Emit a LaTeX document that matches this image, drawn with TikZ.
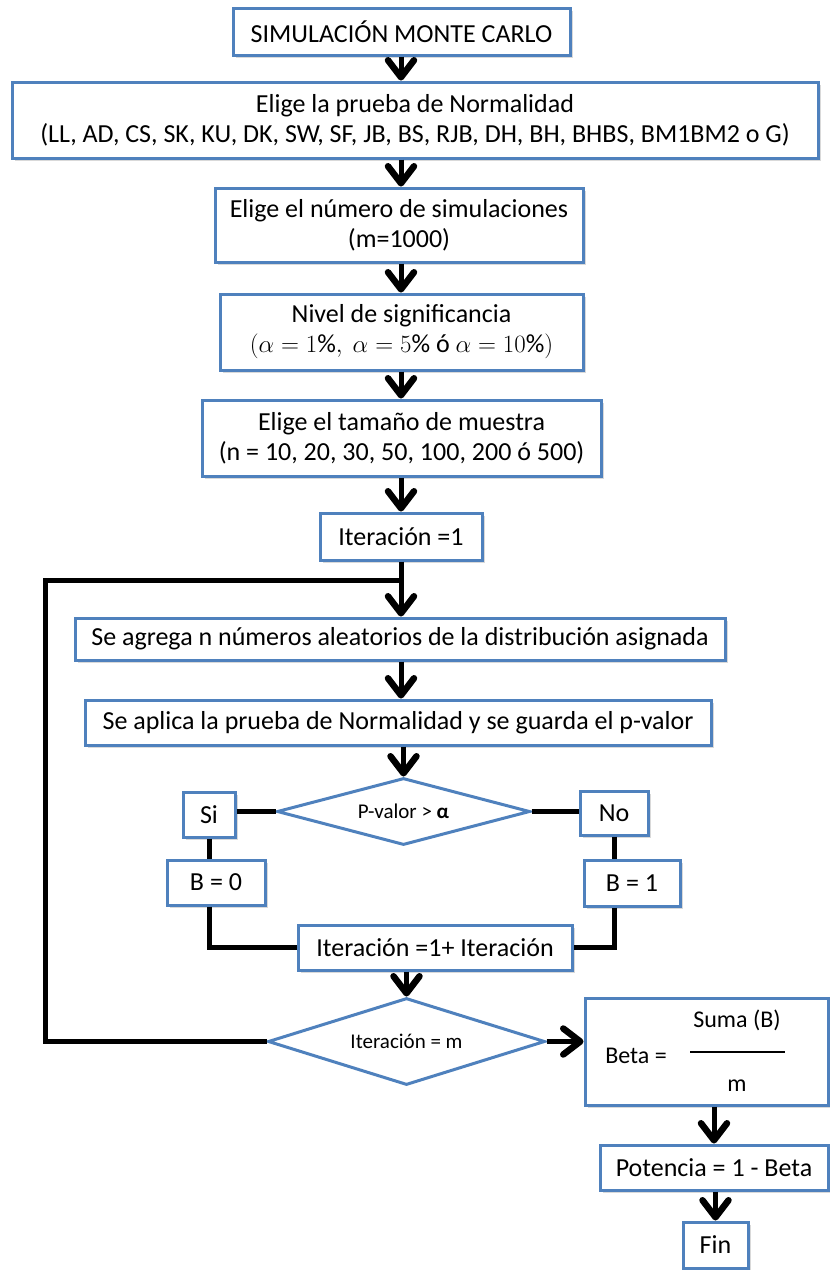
\documentclass[tikz,border=0pt]{standalone}
\usepackage{fontspec}
\setmainfont{Carlito}
\usetikzlibrary{arrows.meta,shapes.geometric,shadows,calc}
\definecolor{boxblue}{RGB}{79,129,189}
\tikzset{
  box/.style={draw=boxblue, line width=3pt, fill=white, inner sep=0pt, align=center,
    font=\fontsize{26}{30}\selectfont,
    drop shadow={shadow xshift=3pt, shadow yshift=-3pt, opacity=0.3}},
  dia/.style={diamond, draw=boxblue, line width=3pt, fill=white, inner sep=0pt,
    shape aspect=3.6, font=\fontsize{21}{25}\selectfont},
  conn/.style={line width=5pt, draw=black},
  arr/.style={conn, -{Straight Barb[length=17pt,width=26pt,line width=6.5pt,round]}},
  lbl/.style={inner sep=0pt, font=\fontsize{24}{28}\selectfont},
}
\begin{document}
\begin{tikzpicture}[x=1pt,y=-1pt]
\useasboundingbox (0,0) rectangle (830,1270);
\node[box, minimum width=337pt, minimum height=47pt] (sim) at (401.5,31.5) {SIMULACIÓN MONTE CARLO};
\node[box, minimum width=806pt, minimum height=76pt] (prueba) at (415,120) {Elige la prueba de Normalidad\\(LL, AD, CS, SK, KU, DK, SW, SF, JB, BS, RJB, DH, BH, BHBS, BM1BM2 o G)};
\node[box, minimum width=368pt, minimum height=74pt] (nsim) at (399,225) {Elige el número de simulaciones\\(m=1000)};
\node[box, minimum width=363pt, minimum height=76pt] (nivel) at (401.5,332) {Nivel de significancia\\$(\alpha = 1\%,\ \alpha = 5\%$ ó $\alpha = 10\%)$};
\node[box, minimum width=399pt, minimum height=76pt] (tam) at (401.5,438) {Elige el tamaño de muestra\\(n = 10, 20, 30, 50, 100, 200 ó 500)};
\node[box, minimum width=162pt, minimum height=47pt] (it1) at (401,536.5) {Iteración =1};
\node[box, minimum width=650pt, minimum height=42pt] (agrega) at (400,639) {Se agrega n números aleatorios de la distribución asignada};
\node[box, minimum width=626pt, minimum height=45pt] (aplica) at (398,722.5) {Se aplica la prueba de Normalidad y se guarda el p-valor};
\node[dia, minimum width=253pt, minimum height=67pt] (pval) at (403.5,811.5) {P-valor > \textbf{α}};
\node[box, minimum width=52pt, minimum height=45pt] (si) at (209,814.5) {Si};
\node[box, minimum width=68pt, minimum height=44pt] (no) at (614,813) {No};
\node[box, minimum width=98pt, minimum height=45pt] (b0) at (216,882.5) {B = 0};
\node[box, minimum width=96pt, minimum height=46pt] (b1) at (632,883) {B = 1};
\node[box, minimum width=274pt, minimum height=45pt] (itp) at (435,947.5) {Iteración =1+ Iteración};
\node[dia, minimum width=277pt, minimum height=87pt] (itm) at (406.5,1041.5) {Iteración = m};
\node[box, minimum width=243pt, minimum height=107pt] (beta) at (706.5,1051.5) {};
\node[lbl] (betal) at (636,1056) {Beta =};
\node[lbl] (suma) at (737,1020) {Suma (B)};
\node[lbl] (mden) at (737,1086) {m};
\coordinate (fl) at (690,1052);
\coordinate (fr) at (785,1052);
\draw[line width=1.2pt] (fl) -- (fr);
\node[box, minimum width=228pt, minimum height=45pt] (pot) at (714,1167.5) {Potencia = 1 - Beta};
\node[box, minimum width=65pt, minimum height=46pt] (fin) at (715.5,1245) {Fin};
% connectors
\coordinate (ax) at (401,0);
\draw[arr] (ax |- sim.south) -- (ax |- prueba.north);
\draw[arr] (ax |- prueba.south) -- (ax |- nsim.north);
\draw[arr] (ax |- nsim.south) -- (ax |- nivel.north);
\draw[arr] (ax |- nivel.south) -- (ax |- tam.north);
\draw[arr] (ax |- tam.south) -- (ax |- it1.north);
\draw[arr] (ax |- it1.south) -- (ax |- agrega.north);
\draw[arr] (ax |- agrega.south) -- (ax |- aplica.north);
\draw[arr] (pval.north |- aplica.south) -- (pval.north);
\draw[conn] (pval.west) -- (pval.west -| si.east);
\draw[conn] (pval.east) -- (pval.east -| no.west);
\draw[conn] (si.south) -- (si.south |- b0.north);
\draw[conn] (no.south) -- (no.south |- b1.north);
\draw[conn] (si.south |- b0.south) |- (itp.west);
\draw[conn] (no.south |- b1.south) |- (itp.east);
\draw[arr] (itm.north |- itp.south) -- (itm.north);
\coordinate (lc) at (45,580);
\draw[conn] (itm.west) -| (lc) -- (lc -| ax);
\draw[arr] (itm.east) -- (itm.east -| beta.west);
\draw[arr] (pot.north |- beta.south) -- (pot.north);
\draw[arr] (fin.north |- pot.south) -- (fin.north);
\end{tikzpicture}
\end{document}
